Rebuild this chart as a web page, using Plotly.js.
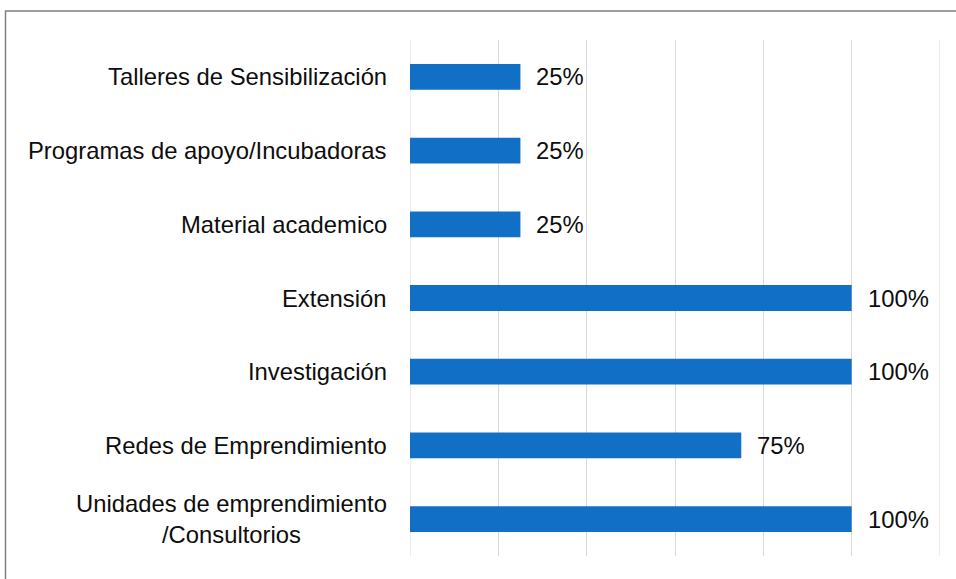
<!DOCTYPE html>
<html>
<head>
<meta charset="utf-8">
<script src="https://cdn.plot.ly/plotly-3.0.1.min.js"></script>
<style>
  html, body { margin: 0; padding: 0; background: #fff; }
  #chart { width: 956px; height: 579px; }
</style>
</head>
<body>
<div id="chart"></div>
<script>
const categories = [
  "Talleres de Sensibilización",
  "Programas de apoyo/Incubadoras",
  "Material academico",
  "Extensión",
  "Investigación",
  "Redes de Emprendimiento",
  "Unidades de emprendimiento<br>/Consultorios"
];
const values = [25, 25, 25, 100, 100, 75, 100];
const valueLabels = ["25%", "25%", "25%", "100%", "100%", "75%", "100%"];
const xEdges = [0, 120];

const FONT = "'Liberation Sans', Arial, sans-serif";
const FS = 23.8;

const trace = {
  type: "bar",
  orientation: "h",
  y: categories,
  x: values,
  width: 0.35,
  marker: { color: "#1170c6" },
  hoverinfo: "skip"
};

const annotations = [];
categories.forEach((c, i) => {
  annotations.push({
    xref: "paper", yref: "y", x: 0, y: c,
    xanchor: "right", yanchor: "middle", xshift: -21,
    text: c, showarrow: false, align: "center",
    font: { family: FONT, size: FS, color: "#0d0d0d" }
  });
  annotations.push({
    xref: "x", yref: "y", x: values[i], y: c,
    xanchor: "left", yanchor: "middle", xshift: 14,
    text: valueLabels[i], showarrow: false,
    font: { family: FONT, size: FS, color: "#0d0d0d" }
  });
});

const shapes = [{
  type: "rect", xref: "paper", yref: "paper",
  x0: (5.5 - 410) / 530, x1: 1.2,
  y0: -0.2, y1: (556.5 - 10.5) / 517,
  line: { color: "#808080", width: 1.5 }, fillcolor: "rgba(0,0,0,0)", layer: "below"
}];
xEdges.forEach(v => shapes.push({
  type: "line", xref: "x", yref: "paper", x0: v, x1: v, y0: 0, y1: 1,
  line: { color: "#d9d9d9", width: 1 }, layer: "below"
}));

const layout = {
  width: 956, height: 579,
  margin: { l: 410, r: 16, t: 39.5, b: 22.5 },
  paper_bgcolor: "#fff", plot_bgcolor: "#fff",
  showlegend: false,
  xaxis: {
    range: [0, 120], dtick: 20, tick0: 0,
    showgrid: true, gridcolor: "#d9d9d9", gridwidth: 1,
    zeroline: false, showline: false, showticklabels: false, ticks: ""
  },
  yaxis: {
    type: "category", categoryorder: "array", categoryarray: categories,
    autorange: "reversed", range: [6.5, -0.5],
    showgrid: false, zeroline: false, showline: false,
    showticklabels: false, ticks: ""
  },
  annotations: annotations,
  shapes: shapes
};

Plotly.newPlot("chart", [trace], layout, { staticPlot: true, displayModeBar: false });
</script>
</body>
</html>
